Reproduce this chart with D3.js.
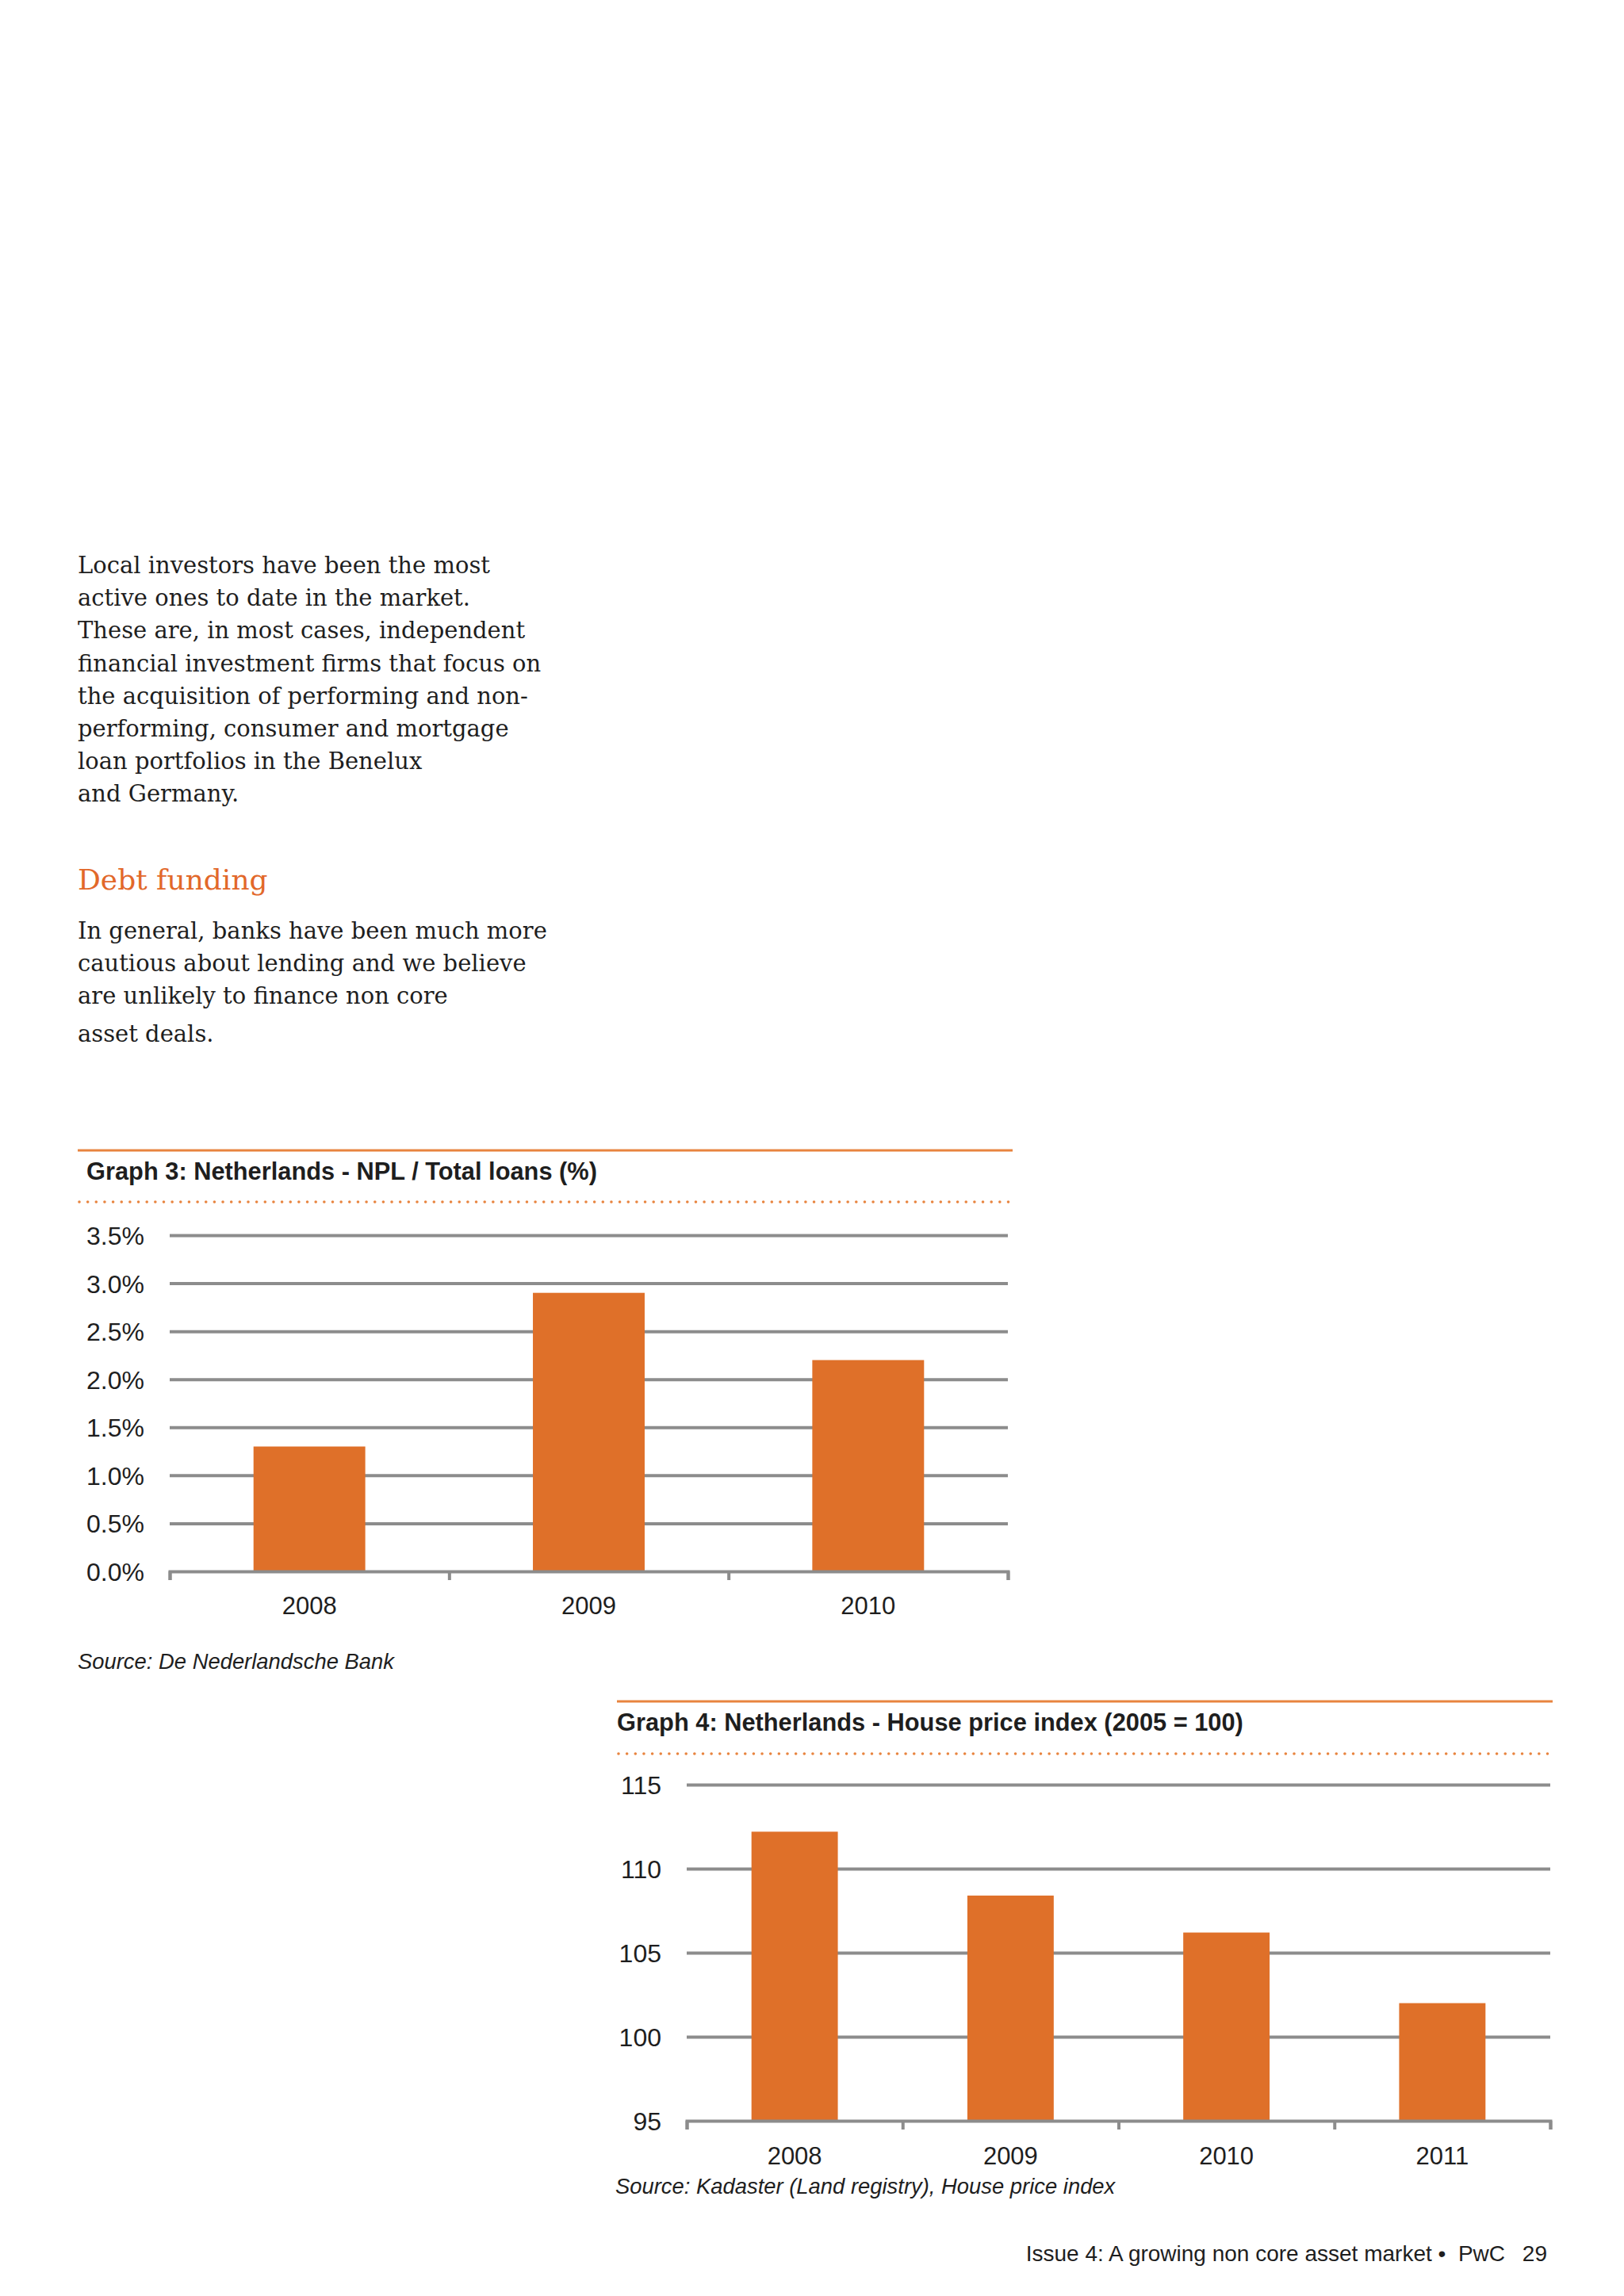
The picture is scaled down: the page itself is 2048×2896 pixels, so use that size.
<!DOCTYPE html>
<html>
<head>
<meta charset="utf-8">
<script src="https://cdnjs.cloudflare.com/ajax/libs/d3/7.8.5/d3.min.js"></script>
<style>
  html, body { margin: 0; padding: 0; background: #ffffff; }
  svg { display: block; }
  text { white-space: pre; }
</style>
</head>
<body>
<script>
// ---------- DATA ----------
const paragraph1 = [
  "Local investors have been the most",
  "active ones to date in the market.",
  "These are, in most cases, independent",
  "financial investment firms that focus on",
  "the acquisition of performing and non-",
  "performing, consumer and mortgage",
  "loan portfolios in the Benelux",
  "and Germany."
];
const heading = "Debt funding";
const paragraph2 = [
  "In general, banks have been much more",
  "cautious about lending and we believe",
  "are unlikely to finance non core",
  "asset deals."
];

const npl_title = "Graph 3: Netherlands - NPL / Total loans (%)";
const npl_years = ["2008", "2009", "2010"];
const npl_values = [1.3, 2.9, 2.2];
const npl_ticks = [0, 0.5, 1.0, 1.5, 2.0, 2.5, 3.0, 3.5];
const npl_source = "Source: De Nederlandsche Bank";

const hpi_title = "Graph 4: Netherlands - House price index (2005 = 100)";
const hpi_years = ["2008", "2009", "2010", "2011"];
const hpi_values = [112.2, 108.4, 106.2, 102.0];
const hpi_ticks = [95, 100, 105, 110, 115];
const hpi_source = "Source: Kadaster (Land registry), House price index";

const footer_text = "Issue 4: A growing non core asset market \u2022  PwC";
const footer_page = "29";

// ---------- STYLE ----------
const W = 2048, H = 2896;
const ORANGE = "#df7029";
const RULE = "#e8843f";
const GRID = "#8c8c8c";
const TEXT = "#1e1e1e";
const SANS = "'Liberation Sans', Arial, Helvetica, sans-serif";
const SERIF = "'DejaVu Serif', 'Liberation Serif', Georgia, serif";

const svg = d3.select("body").append("svg")
  .attr("width", W).attr("height", H)
  .attr("viewBox", `0 0 ${W} ${H}`);
svg.append("rect").attr("width", W).attr("height", H).attr("fill", "#ffffff");

// ---------- BODY TEXT ----------
const p1 = svg.append("text")
  .attr("font-family", SERIF).attr("font-size", 29).attr("fill", TEXT);
p1.selectAll("tspan").data(paragraph1).join("tspan")
  .attr("x", 98).attr("y", (d, i) => 723 + i * 41.2).text(d => d);

svg.append("text").attr("x", 98).attr("y", 1122)
  .attr("font-family", SERIF).attr("font-size", 36).attr("fill", "#e2682a")
  .text(heading);

const p2 = svg.append("text")
  .attr("font-family", SERIF).attr("font-size", 29).attr("fill", TEXT);
p2.selectAll("tspan").data(paragraph2).join("tspan")
  .attr("x", 98).attr("y", (d, i) => [1184, 1225, 1266, 1314][i]).text(d => d);

// ---------- CHART BUILDER ----------
function barChart(cfg) {
  const g = svg.append("g");
  // top rule
  g.append("line").attr("x1", cfg.ruleX0).attr("x2", cfg.ruleX1)
    .attr("y1", cfg.ruleY).attr("y2", cfg.ruleY)
    .attr("stroke", RULE).attr("stroke-width", 3);
  // title
  g.append("text").attr("x", cfg.titleX).attr("y", cfg.titleY)
    .attr("font-family", SANS).attr("font-weight", "bold").attr("font-size", 30.8)
    .attr("fill", TEXT).text(cfg.title);
  // dotted rule
  g.append("line").attr("x1", cfg.ruleX0 + 2).attr("x2", cfg.ruleX1 + 4)
    .attr("y1", cfg.dotY).attr("y2", cfg.dotY)
    .attr("stroke", RULE).attr("stroke-width", 3.6)
    .attr("stroke-linecap", "round").attr("stroke-dasharray", "0 10.65");

  const x = d3.scaleBand().domain(cfg.cats)
    .range([cfg.left, cfg.right]).paddingInner(0.6).paddingOuter(0.3);
  const y = d3.scaleLinear().domain(cfg.domain).range([cfg.bottom, cfg.top]);

  // gridlines + y labels
  const yAxis = g.append("g").attr("transform", `translate(${cfg.left},0)`)
    .call(d3.axisLeft(y).tickValues(cfg.ticks)
      .tickSize(-(cfg.right - cfg.left)).tickPadding(32)
      .tickFormat(cfg.fmt));
  yAxis.select(".domain").remove();
  yAxis.selectAll(".tick line").attr("stroke", GRID).attr("stroke-width", 4)
    .filter(d => d === cfg.domain[0]).remove();
  yAxis.selectAll(".tick text").attr("font-family", SANS).attr("font-size", 32)
    .attr("fill", TEXT).attr("dy", "0.36em");

  // bars
  g.append("g").selectAll("rect").data(cfg.values).join("rect")
    .attr("x", (d, i) => x(cfg.cats[i]))
    .attr("width", x.bandwidth())
    .attr("y", d => y(d))
    .attr("height", d => y(cfg.domain[0]) - y(d))
    .attr("fill", ORANGE);

  // bottom axis: boundary ticks
  const edge = d3.scaleLinear().domain([0, cfg.cats.length]).range([cfg.left, cfg.right]);
  const xb = g.append("g").attr("transform", `translate(0,${cfg.bottom})`)
    .call(d3.axisBottom(edge).tickValues(d3.range(cfg.cats.length + 1))
      .tickSizeInner(11).tickSizeOuter(11).tickFormat(""));
  xb.select(".domain").attr("stroke", GRID).attr("stroke-width", 4);
  xb.selectAll(".tick line").attr("stroke", GRID).attr("stroke-width", 4);

  // category labels
  const xl = g.append("g").attr("transform", `translate(0,${cfg.bottom})`)
    .call(d3.axisBottom(x).tickSize(0).tickPadding(cfg.labelGap));
  xl.select(".domain").remove();
  xl.selectAll(".tick text").attr("font-family", SANS).attr("font-size", 31)
    .attr("fill", TEXT).attr("dy", "0");

  // source
  g.append("text").attr("x", cfg.sourceX).attr("y", cfg.sourceY)
    .attr("font-family", SANS).attr("font-style", "italic").attr("font-size", 27.4)
    .attr("fill", TEXT).text(cfg.source);
}

barChart({
  title: npl_title, cats: npl_years, values: npl_values, ticks: npl_ticks,
  domain: [0, 3.5], fmt: d => d.toFixed(1) + "%",
  ruleX0: 98, ruleX1: 1277, ruleY: 1451, titleX: 109, titleY: 1488, dotY: 1516,
  left: 214, right: 1271, top: 1558, bottom: 1982, labelGap: 54,
  source: npl_source, sourceX: 98, sourceY: 2105
});

barChart({
  title: hpi_title, cats: hpi_years, values: hpi_values, ticks: hpi_ticks,
  domain: [95, 115], fmt: d3.format("d"),
  ruleX0: 778, ruleX1: 1958, ruleY: 2146, titleX: 778, titleY: 2183, dotY: 2212,
  left: 866, right: 1955, top: 2251, bottom: 2675, labelGap: 55,
  source: hpi_source, sourceX: 776, sourceY: 2767
});

// ---------- FOOTER ----------
svg.append("text").attr("x", 1898).attr("y", 2852).attr("text-anchor", "end")
  .attr("font-family", SANS).attr("font-size", 28).attr("fill", TEXT).text(footer_text);
svg.append("text").attr("x", 1951).attr("y", 2852).attr("text-anchor", "end")
  .attr("font-family", SANS).attr("font-size", 28).attr("fill", TEXT).text(footer_page);
</script>
</body>
</html>
